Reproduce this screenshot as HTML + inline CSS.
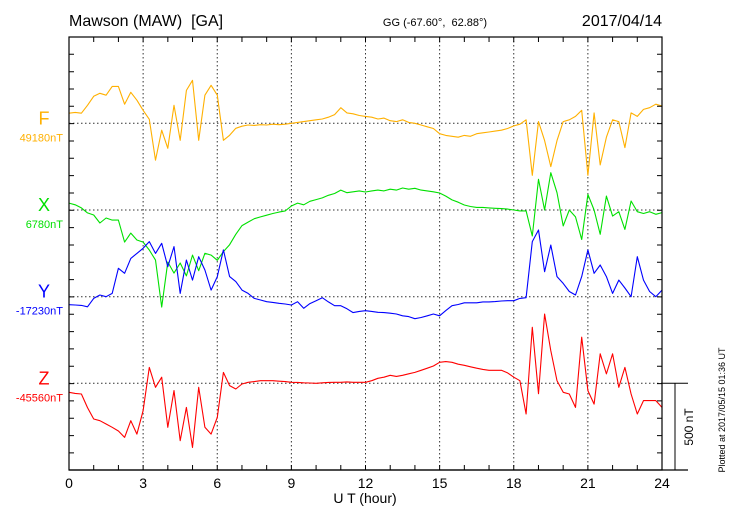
<!DOCTYPE html>
<html><head><meta charset="utf-8"><style>
html,body{margin:0;padding:0;background:#fff}
svg{display:block;font-family:"Liberation Sans",sans-serif}
</style></head><body>
<svg id="chart" width="730" height="520" viewBox="0 0 730 520" xmlns="http://www.w3.org/2000/svg">
<text x="69" y="26" font-size="16">Mawson (MAW)&#160; [GA]</text>
<text x="435" y="26" font-size="11" text-anchor="middle">GG (-67.60°,&#160; 62.88°)</text>
<text x="662" y="26" font-size="16" text-anchor="end">2017/04/14</text>
<text x="365" y="503" font-size="14" text-anchor="middle">U T (hour)</text>
<text transform="translate(693,427) rotate(-90)" font-size="12" text-anchor="middle">500 nT</text>
<text transform="translate(725,410) rotate(-90)" font-size="9" text-anchor="middle">Plotted at 2017/05/15 01:36 UT</text>
<g id="grid"></g><g id="series"></g><g id="axes"></g><g id="labels"></g>
</svg>
<script>
const hours = [0,3,6,9,12,15,18,21,24];
const componentNames = ["F","X","Y","Z"];
const baselineLabels = ["49180nT","6780nT","-17230nT","-45560nT"];
const stepHours = 0.25;
const fValues = [58,63,58,104,156,173,162,213,213,110,179,133,
75,23,-213,-40,-144,104,-98,190,248,-98,162,219,
162,-98,-69,-29,-17,-10,-12,-8,-10,-5,-8,-5,
0,5,10,15,20,25,35,50,90,60,55,45,
40,35,25,30,15,10,20,5,0,-10,-20,-30,
-60,-70,-75,-80,-70,-75,-60,-55,-50,-45,-40,-30,
-15,-5,20,-300,10,-100,-250,-100,10,20,40,75,
-300,60,-240,-80,20,10,-140,60,40,80,90,110,100];
const xValues = [40,30,12,-17,-29,-75,-46,-58,-58,-185,-133,-173,
-185,-231,-289,-560,-300,-364,-306,-380,-260,-350,-250,-260,
-290,-240,-200,-140,-90,-70,-50,-40,-30,-20,-12,-5,
23,40,30,50,60,70,85,95,115,100,105,110,
104,110,115,110,120,115,127,120,125,115,110,105,
98,80,58,45,29,20,15,15,12,10,8,5,
0,-5,-5,-150,177,0,215,100,-92,0,-40,-170,
90,0,-140,80,-35,-10,-112,52,-10,-20,-10,-25,-15];
const yValues = [-46,-48,-50,-58,-10,10,0,19,164,135,221,250,
279,318,250,308,173,289,19,212,96,231,154,38,
116,270,116,87,38,19,-10,-19,-29,-33,-38,-42,
-48,-29,-67,-40,-23,-6,-30,-52,-52,-70,-92,-85,
-81,-85,-90,-92,-95,-100,-110,-115,-127,-120,-110,-100,
-110,-80,-52,-45,-35,-35,-35,-30,-30,-28,-25,-23,
-23,-10,-6,318,385,144,298,116,77,30,10,116,
270,135,183,116,19,96,50,0,231,96,30,0,38];
const zValues = [-52,-58,-62,-140,-206,-216,-235,-254,-275,-312,-216,-293,
-158,92,-23,35,-254,-42,-331,-139,-370,-23,-254,-293,
-196,63,-13,-33,-4,6,10,15,15,15,12,10,
6,5,3,2,0,3,5,6,6,8,6,6,
6,15,29,35,46,40,46,55,63,75,87,100,
121,125,121,110,104,95,87,80,75,75,75,60,
35,15,-177,323,-60,400,188,15,-52,-62,-139,266,
-42,-120,170,54,170,-23,92,-62,-177,-100,-100,-100,-139];

const NS="http://www.w3.org/2000/svg";
const L=69,R=662,T=37,B=470;
const baselines=[123.3,210,296.7,383.3];
const pxPerNT=86.67/500;
const colors=["#ffb000","#00e000","#0000ff","#ff0000"];
function xs(h){return L+(R-L)*h/24;}
function ys(i,v){return baselines[i]-v*pxPerNT;}
function mk(tag,attrs,parent){const e=document.createElementNS(NS,tag);for(const k in attrs)e.setAttribute(k,attrs[k]);parent.appendChild(e);return e;}
const grid=document.getElementById('grid'),ser=document.getElementById('series'),ax=document.getElementById('axes'),lab=document.getElementById('labels');
hours.slice(1,-1).forEach(h=>{
  const l=mk('line',{x1:xs(h),x2:xs(h),y1:T,y2:B,stroke:'#333','stroke-width':1,'stroke-dasharray':'1.5,2.5'},grid);
  
  
});
baselines.forEach((b,i)=>{
  const l=mk('line',{x1:L,x2:R,y1:b,y2:b,stroke:'#333','stroke-width':1,'stroke-dasharray':'1.5,2.5'},grid);
  
  
});
[fValues,xValues,yValues,zValues].forEach((arr,i)=>{
  const d=arr.map((v,k)=>(k?'L':'M')+xs(k*stepHours).toFixed(1)+','+ys(i,v).toFixed(1)).join(' ');
  const p=mk('path',{d:d,fill:'none',stroke:colors[i],'stroke-width':1.1,'stroke-linejoin':'round'},ser);
  
  
});
const fr=mk('rect',{x:L,y:T,width:R-L,height:B-T,fill:'none',stroke:'#000','stroke-width':1.2},ax);


const bx=mk('line',{x1:L,x2:688,y1:B,y2:B,stroke:'#000','stroke-width':1.2},ax);


const sh=mk('line',{x1:R,x2:688,y1:baselines[3],y2:baselines[3],stroke:'#000','stroke-width':1},ax);


const sv=mk('line',{x1:675,x2:675,y1:baselines[3],y2:B,stroke:'#000','stroke-width':1},ax);


let td='';
for(let h=1;h<24;h++){td+='M'+xs(h)+','+B+'v-5M'+xs(h)+','+T+'v5';}
for(let y=T+17.33;y<B-1;y+=17.33){td+='M'+L+','+y.toFixed(1)+'h5M'+R+','+y.toFixed(1)+'h-5';}
const tk=mk('path',{d:td,stroke:'#000','stroke-width':1},ax);


hours.forEach(h=>{
  const t=mk('text',{x:xs(h),y:488,'font-size':14,'text-anchor':'middle'},lab);
  t.textContent=h;
  
  
});
componentNames.forEach((n,i)=>{
  const t=mk('text',{x:44,y:baselines[i]+1,'font-size':18,'text-anchor':'middle',fill:colors[i]},lab);
  t.textContent=n;
  
  
  const v=mk('text',{x:63,y:baselines[i]+18,'font-size':11,'text-anchor':'end',fill:colors[i]},lab);
  v.textContent=baselineLabels[i];
  
  
});
</script>
</body></html>
